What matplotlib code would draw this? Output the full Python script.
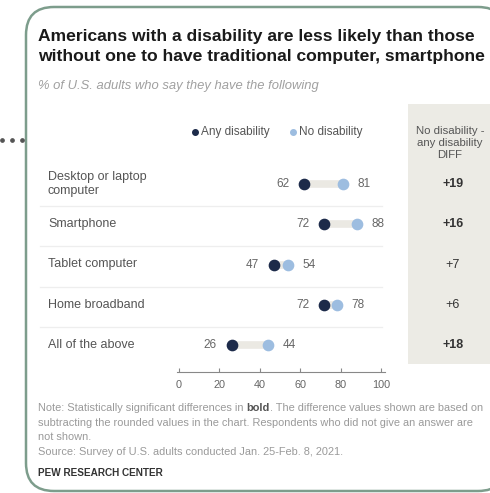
import matplotlib
matplotlib.use("Agg")
import matplotlib.pyplot as plt
from matplotlib.patches import FancyBboxPatch, Rectangle

categories = ["Desktop or laptop\ncomputer", "Smartphone", "Tablet computer", "Home broadband", "All of the above"]
any_disability = [62, 72, 47, 72, 26]
no_disability = [81, 88, 54, 78, 44]
diff_labels = ["+19", "+16", "+7", "+6", "+18"]
diff_bold = [True, True, False, False, True]
xticks = [0, 20, 40, 60, 80, 100]

W, H = 490, 493
plt.rcParams['font.family'] = ['Liberation Sans', 'DejaVu Sans']
fig = plt.figure(figsize=(W / 100, H / 100), dpi=100)
renderer = fig.canvas.get_renderer()

ov = fig.add_axes([0, 0, 1, 1])
ov.set_xlim(0, W)
ov.set_ylim(H, 0)
ov.axis('off')

frame_col = '#7d9d8c'
ov.add_patch(FancyBboxPatch((26, 7), 480, 484, boxstyle="round,pad=0,rounding_size=28",
                            fc='white', ec=frame_col, lw=1.8, zorder=1))
for x in [2, 12, 22]:
    ov.plot(x, 140, 'o', ms=2.4, color='#555555', zorder=2)

ov.add_patch(Rectangle((408, 104), 90, 260, fc='#ecebe5', ec='none', zorder=1.5))

# title sized so the longer line fits inside the picture
tfs = 12.8
t_a = ov.text(38, 36, "Americans with a disability are less likely than those", fontsize=tfs,
              fontweight='bold', color='#1a1a1a', va='center', ha='left', zorder=3)
t_b = ov.text(38, 56, "without one to have traditional computer, smartphone", fontsize=tfs,
              fontweight='bold', color='#1a1a1a', va='center', ha='left', zorder=3)
wb = t_b.get_window_extent(renderer).width
if 38 + wb > 486:
    tfs = tfs * (486 - 38) / wb
    t_a.set_fontsize(tfs)
    t_b.set_fontsize(tfs)
ov.text(38, 86, "% of U.S. adults who say they have the following", fontsize=9.4,
        style='italic', color='#a0a0a0', va='center', ha='left', zorder=3)

# legend
ov.plot(195, 132, 'o', ms=4, color='#1d2b4a', zorder=3)
ov.text(201, 132, "Any disability", fontsize=8.5, color='#555555', va='center', zorder=3)
ov.plot(293, 132, 'o', ms=4, color='#9dbde0', zorder=3)
ov.text(299, 132, "No disability", fontsize=8.5, color='#555555', va='center', zorder=3)

ov.text(450, 143, "No disability -\nany disability\nDIFF", fontsize=8.2, color='#555555',
        ha='center', va='center', linespacing=1.25, zorder=3)

# note with bold word
note_col = '#9a9a9a'
nfs = 7.9
t1 = ov.text(38, 408, "Note: Statistically significant differences in ", fontsize=nfs, color=note_col,
             va='center', zorder=3)
w1 = t1.get_window_extent(renderer).width
t2 = ov.text(38 + w1, 408, "bold", fontsize=nfs, color='#555555', fontweight='bold', va='center', zorder=3)
w2 = t2.get_window_extent(renderer).width
ov.text(38 + w1 + w2, 408, ". The difference values shown are based on", fontsize=nfs, color=note_col,
        va='center', zorder=3)
note_lines = [
    "subtracting the rounded values in the chart. Respondents who did not give an answer are",
    "not shown.",
    "Source: Survey of U.S. adults conducted Jan. 25-Feb. 8, 2021.",
]
for t, y in zip(note_lines, [423, 437, 452]):
    ov.text(38, y, t, fontsize=nfs, color=note_col, va='center', zorder=3)
ov.text(38, 473, "PEW RESEARCH CENTER", fontsize=7.2, fontweight='bold', color='#333333', va='center', zorder=3)

# data axes
x0, x1 = 179, 381
r0, dr = 184, 40.25
ytop, ybot = 160, 372
ax = fig.add_axes([x0 / W, 1 - ybot / H, (x1 - x0) / W, (ybot - ytop) / H])
ax.set_xlim(0, 100)
ax.set_ylim((ybot - r0) / dr, -(r0 - ytop) / dr)
ax.patch.set_alpha(0)
for s in ['top', 'right', 'left']:
    ax.spines[s].set_visible(False)
ax.spines['bottom'].set_color('#888888')
ax.spines['bottom'].set_linewidth(0.8)
ax.spines['bottom'].set_bounds(-1, 102)
ax.set_yticks([])
ax.set_xticks(xticks)
ax.set_xticklabels([str(v) for v in xticks])
ax.tick_params(axis='x', direction='in', length=3, width=0.8, color='#888888',
               labelsize=7.8, labelcolor='#666666', pad=6)

rows = list(range(len(categories)))
ax.hlines(rows, any_disability, no_disability, color='#ebe9e3', lw=5.5, zorder=2)
ax.plot(any_disability, rows, 'o', ms=7.4, color='#1d2b4a', zorder=3, ls='none')
ax.plot(no_disability, rows, 'o', ms=7.4, color='#9dbde0', zorder=3, ls='none')
for r, a, n in zip(rows, any_disability, no_disability):
    ax.annotate(str(a), (a, r), xytext=(-10.5, 0), textcoords='offset points', ha='right',
                va='center', fontsize=8.5, color='#666666')
    ax.annotate(str(n), (n, r), xytext=(10.5, 0), textcoords='offset points', ha='left',
                va='center', fontsize=8.5, color='#666666')

for r in rows[:-1]:
    ax.axhline(r + 0.55, xmin=(40 - x0) / (x1 - x0), xmax=(382 - x0) / (x1 - x0),
               color='#eeeeee', lw=0.9, clip_on=False, zorder=1)

for r, c in enumerate(categories):
    ax.text((48 - x0) / (x1 - x0), r, c, transform=ax.get_yaxis_transform(), ha='left',
            va='center', fontsize=9, color='#555555', linespacing=1.2)
for r, (d, b) in enumerate(zip(diff_labels, diff_bold)):
    ax.text((453 - x0) / (x1 - x0), r, d, transform=ax.get_yaxis_transform(), ha='center',
            va='center', fontsize=9, color='#333333', fontweight='bold' if b else 'normal')

fig.savefig("out.png", dpi=100)
